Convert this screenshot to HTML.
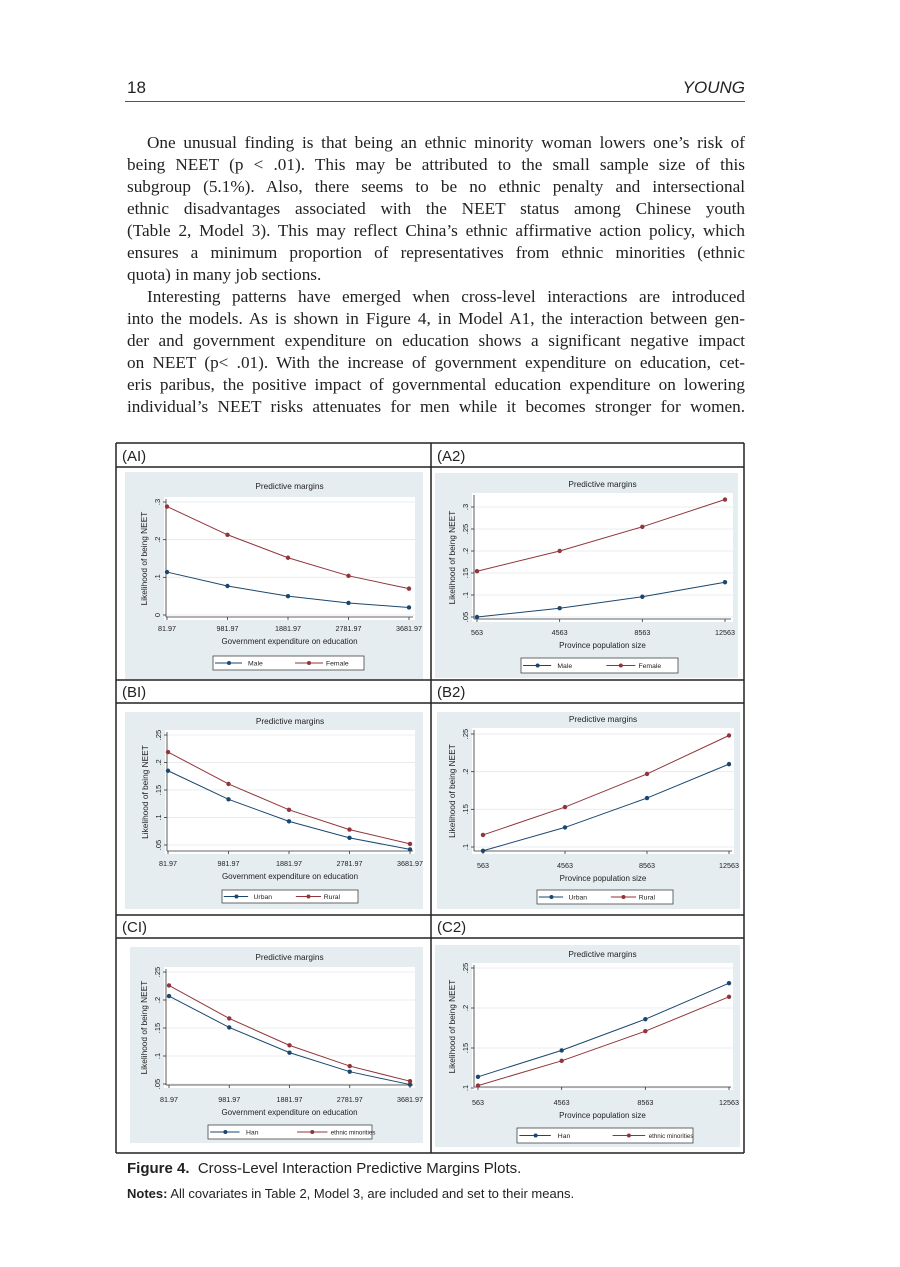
<!DOCTYPE html>
<html><head><meta charset="utf-8">
<style>
body{margin:0;background:#fff;}
#pg{position:relative;width:900px;height:1267px;overflow:hidden;background:#fff;}
.hd{position:absolute;font-family:"Liberation Sans",sans-serif;font-size:17px;color:#222;}
.tx{position:absolute;left:127px;width:618px;font-family:"Liberation Serif",serif;font-size:17.2px;line-height:22px;color:#222;}
.tx div{white-space:nowrap;text-align:justify;text-align-last:justify;height:22px;}
.tx .i{padding-left:20px;}
.tx .l{text-align-last:left;}
.tx .g{height:3px;}
.cap{position:absolute;left:127px;font-family:"Liberation Sans",sans-serif;color:#222;}
</style></head><body>
<div id="pg">
<div class="hd" style="left:127px;top:78px;">18</div>
<div class="hd" style="right:155px;top:78px;font-style:italic;">YOUNG</div>
<div style="position:absolute;left:125px;top:101px;width:620px;height:1px;background:#555;"></div>
<div class="tx" style="top:132px;">
<div class="i">One unusual finding is that being an ethnic minority woman lowers one’s risk of</div>
<div>being NEET (p &lt; .01). This may be attributed to the small sample size of this</div>
<div>subgroup (5.1%). Also, there seems to be no ethnic penalty and intersectional</div>
<div>ethnic disadvantages associated with the NEET status among Chinese youth</div>
<div>(Table 2, Model 3). This may reflect China’s ethnic affirmative action policy, which</div>
<div>ensures a minimum proportion of representatives from ethnic minorities (ethnic</div>
<div class="l">quota) in many job sections.</div>
<div class="i">Interesting patterns have emerged when cross-level interactions are introduced</div>
<div>into the models. As is shown in Figure 4, in Model A1, the interaction between gen-</div>
<div>der and government expenditure on education shows a significant negative impact</div>
<div>on NEET (p&lt; .01). With the increase of government expenditure on education, cet-</div>
<div>eris paribus, the positive impact of governmental education expenditure on lowering</div>
<div>individual’s NEET risks attenuates for men while it becomes stronger for women.</div>
</div>
<svg id="fig" width="900" height="1267" style="position:absolute;left:0;top:0" font-family="Liberation Sans, sans-serif"></svg>
<div class="cap" style="top:1160px;font-size:15px;"><b>Figure 4.</b>&nbsp; Cross-Level Interaction Predictive Margins Plots.</div>
<div class="cap" style="top:1186px;font-size:13px;"><b>Notes:</b> All covariates in Table 2, Model 3, are included and set to their means.</div>
</div>
<script>
var s='';
function L(x1,y1,x2,y2,c,w){s+='<line x1="'+x1+'" y1="'+y1+'" x2="'+x2+'" y2="'+y2+'" stroke="'+c+'" stroke-width="'+w+'"/>';}
function T(x,y,t,sz,anc,extra){s+='<text x="'+x+'" y="'+y+'" font-size="'+sz+'" text-anchor="'+(anc||'middle')+'" fill="#222" '+(extra||'')+'>'+t+'</text>';}
[443,467,680,703,915,938,1153].forEach(function(y){L(116,y,744,y,'#222',1.5);});
L(116,443,116,1153,'#222',1.5);L(744,443,744,1153,'#222',1.5);L(431,443,431,1153,'#222',1.5);
var lab=[['(AI)',122,461],['(A2)',437,461],['(BI)',122,697],['(B2)',437,697],['(CI)',122,932],['(C2)',437,932]];
lab.forEach(function(a){T(a[1],a[2],a[0],15,'start');});
var NAVY='#1a476f',RED='#90353b';
function panel(c){
 s+='<rect x="'+c.bg[0]+'" y="'+c.bg[1]+'" width="'+(c.bg[2]-c.bg[0])+'" height="'+(c.bg[3]-c.bg[1])+'" fill="#e6edf1"/>';
 s+='<rect x="'+c.pl[0]+'" y="'+c.pl[1]+'" width="'+(c.pl[2]-c.pl[0])+'" height="'+(c.pl[3]-c.pl[1])+'" fill="#fff"/>';
 function Y(v){return c.y[1]+(v-c.y[0])*(c.y[3]-c.y[1])/(c.y[2]-c.y[0]);}
 var ax=c.pl[0]+2;
 c.yt.forEach(function(t){var y=Y(t[0]);L(c.pl[0],y,c.pl[2],y,'#e8ecef',1);L(ax-3,y,ax,y,'#333',0.8);
   T(ax-6,y,t[1],7.5,'middle','transform="rotate(-90 '+(ax-6)+' '+y+')"');});
 L(ax,c.pl[1]+2,ax,c.pl[3]-3,'#333',0.8);
 var by=c.pl[3]-3;L(ax,by,c.pl[2]-2,by,'#333',0.8);
 c.xs.forEach(function(x,i){L(x,by,x,by+3,'#333',0.8);T(x,c.tky,c.xl[i],7.2);});
 T((c.pl[0]+c.pl[2])/2,c.ty,'Predictive margins',8.3);
 T((c.pl[0]+c.pl[2])/2,c.xly,c.xlab,8);
 var yl=ax-19,ym=(c.pl[1]+c.pl[3])/2;
 T(yl,ym,'Likelihood of being NEET',8.3,'middle','transform="rotate(-90 '+yl+' '+ym+')"');
 [[c.s1,NAVY],[c.s2,RED]].forEach(function(p){var pts=p[0].map(function(v,i){return c.xs[i]+','+Y(v);}).join(' ');
  s+='<polyline points="'+pts+'" fill="none" stroke="'+p[1]+'" stroke-width="1"/>';
  p[0].forEach(function(v,i){s+='<circle cx="'+c.xs[i]+'" cy="'+Y(v)+'" r="2.2" fill="'+p[1]+'"/>';});});
 var g=c.lg,w=g[2]-g[0],my=(g[1]+g[3])/2;
 s+='<rect x="'+g[0]+'" y="'+g[1]+'" width="'+w+'" height="'+(g[3]-g[1])+'" fill="#fff" stroke="#444" stroke-width="0.8"/>';
 var k=w/151;
 L(g[0]+2*k,my,g[0]+29*k,my,NAVY,1);s+='<circle cx="'+(g[0]+16*k)+'" cy="'+my+'" r="2" fill="'+NAVY+'"/>';
 T(g[0]+35*k,my+2.5,c.ln[0],6.8,'start');
 L(g[0]+82*k,my,g[0]+110*k,my,RED,1);s+='<circle cx="'+(g[0]+96*k)+'" cy="'+my+'" r="2" fill="'+RED+'"/>';
 T(g[0]+113*k,my+2.5,c.ln[1],c.ln[1].length>10?6.2:6.8,'start');
}
var XL1=['81.97','981.97','1881.97','2781.97','3681.97'],XL2=['563','4563','8563','12563'];
var G1='Government expenditure on education',G2='Province population size';
function xs5(a,b){var r=[];for(var i=0;i<5;i++)r.push(a+(b-a)*i/4);return r;}
function xs4(a,b){var r=[];for(var i=0;i<4;i++)r.push(a+(b-a)*i/3);return r;}
panel({bg:[125,472,423,679],pl:[164,497,415,620],y:[0,615,0.3,502],yt:[[0,'0'],[0.1,'.1'],[0.2,'.2'],[0.3,'.3']],
 xs:xs5(167,409),xl:XL1,tky:631,xly:644,ty:489,xlab:G1,s1:[.114,.077,.050,.032,.020],s2:[.288,.213,.152,.104,.070],
 lg:[213,656,364,670],ln:['Male','Female']});
panel({bg:[435,473,738,678],pl:[472,493,733,622],y:[0.05,617,0.3,507],yt:[[.05,'.05'],[.1,'.1'],[.15,'.15'],[.2,'.2'],[.25,'.25'],[.3,'.3']],
 xs:xs4(477,725),xl:XL2,tky:635,xly:648,ty:487,xlab:G2,s1:[.05,.070,.096,.129],s2:[.154,.200,.255,.317],
 lg:[521,658,678,673],ln:['Male','Female']});
panel({bg:[125,712,423,909],pl:[165,730,415,854],y:[0.05,845,0.25,735],yt:[[.05,'.05'],[.1,'.1'],[.15,'.15'],[.2,'.2'],[.25,'.25']],
 xs:xs5(168,410),xl:XL1,tky:866,xly:879,ty:724,xlab:G1,s1:[.185,.133,.093,.063,.042],s2:[.219,.161,.114,.078,.052],
 lg:[222,890,358,903],ln:['Urban','Rural']});
panel({bg:[437,712,740,909],pl:[472,728,734,854],y:[0.1,847,0.25,734],yt:[[.1,'.1'],[.15,'.15'],[.2,'.2'],[.25,'.25']],
 xs:xs4(483,729),xl:XL2,tky:868,xly:881,ty:722,xlab:G2,s1:[.095,.126,.165,.210],s2:[.116,.153,.197,.248],
 lg:[537,890,673,904],ln:['Urban','Rural']});
panel({bg:[130,947,423,1143],pl:[164,967,415,1088],y:[0.05,1084,0.25,972],yt:[[.05,'.05'],[.1,'.1'],[.15,'.15'],[.2,'.2'],[.25,'.25']],
 xs:xs5(169,410),xl:XL1,tky:1102,xly:1115,ty:960,xlab:G1,s1:[.207,.151,.106,.072,.049],s2:[.226,.167,.119,.082,.055],
 lg:[208,1125,372,1139],ln:['Han','ethnic minorities']});
panel({bg:[435,945,740,1147],pl:[472,963,733,1090],y:[0.1,1088,0.25,968],yt:[[.1,'.1'],[.15,'.15'],[.2,'.2'],[.25,'.25']],
 xs:xs4(478,729),xl:XL2,tky:1105,xly:1118,ty:957,xlab:G2,s1:[.114,.147,.186,.231],s2:[.103,.134,.171,.214],
 lg:[517,1128,693,1143],ln:['Han','ethnic minorities']});
document.getElementById('fig').innerHTML=s;
</script>
</body></html>
